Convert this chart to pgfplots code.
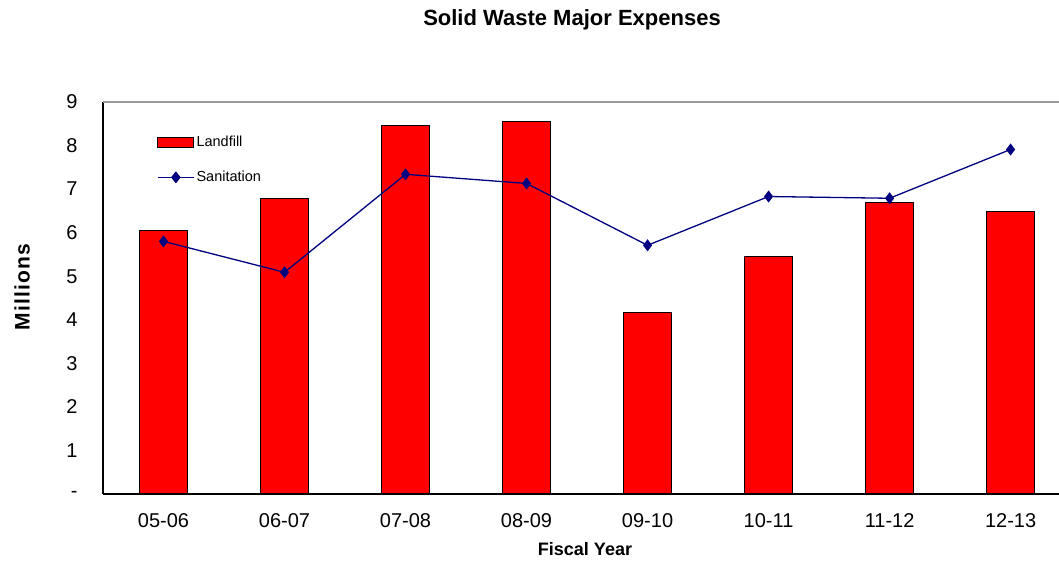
\documentclass[border=0pt]{standalone}
\usepackage{pgfplots}
\pgfplotsset{compat=1.18}
\usepackage{fontspec}
\setmainfont{Liberation Sans}
\definecolor{navyline}{RGB}{0,0,128}
\begin{document}
\begin{tikzpicture}[x=1pt,y=1pt]
\useasboundingbox (0,0) rectangle (1059,561);
\begin{axis}[
  at={(103pt,67pt)}, anchor=south west,
  scale only axis, width=956pt, height=392pt,
  xmin=-0.5, xmax=7.40, ymin=0, ymax=9,
  axis x line*=bottom, axis y line*=left,
  axis line style={black, line width=1.2pt},
  x axis line style={-}, y axis line style={-},
  xtick={0,...,7},
  xticklabels={05-06,06-07,07-08,08-09,09-10,10-11,11-12,12-13},
  ytick={0,...,9},
  yticklabels={-,1,2,3,4,5,6,7,8,9},
  major tick length=0pt,
  tick label style={font=\fontsize{20}{22}\selectfont},
  yticklabel style={xshift=-22pt},
  xticklabel style={yshift=-16pt},
  /pgf/number format/assume math mode=true,
  clip=false,
  legend style={at={(0.0565,0.918)}, anchor=north west, draw=none, fill=none,
    font=\fontsize{14.5}{16}\selectfont, row sep=19pt, inner sep=0pt,
    cells={anchor=west}},
  legend cell align=left,
]
\draw[gray!80, line width=1.2pt] (rel axis cs:0,1) -- (rel axis cs:1,1);
\addplot[ybar, bar width=48pt, fill=red, draw=black, line width=1pt,
  legend image code/.code={\draw[fill=red,draw=black,line width=1pt] (0pt,-5pt) rectangle (36pt,5pt);}]
  coordinates {(0,6.06) (1,6.79) (2,8.46) (3,8.56) (4,4.17) (5,5.46) (6,6.70) (7,6.49)};
\addlegendentry{Landfill}
\addplot[navyline, line width=1.3pt, mark=diamond*, mark size=5pt,
  mark options={fill=navyline, draw=navyline},
  legend image code/.code={\draw[navyline,line width=1.3pt] (0pt,0pt) -- (36pt,0pt);
    \fill[navyline] (18pt,5pt) -- (22pt,0pt) -- (18pt,-5pt) -- (14pt,0pt) -- cycle;}]
  coordinates {(0,5.80) (1,5.09) (2,7.34) (3,7.13) (4,5.71) (5,6.83) (6,6.79) (7,7.91)};
\addlegendentry{Sanitation}
\end{axis}
\node[font=\fontsize{22}{24}\selectfont\bfseries] at (572,541) {Solid Waste Major Expenses};
\node[font=\fontsize{18}{20}\selectfont\bfseries] at (585,12) {Fiscal Year};
\node[font=\fontsize{21}{24}\selectfont\bfseries, rotate=90] at (22,274) {\addfontfeatures{LetterSpace=6}Millions};
\end{tikzpicture}
\end{document}
